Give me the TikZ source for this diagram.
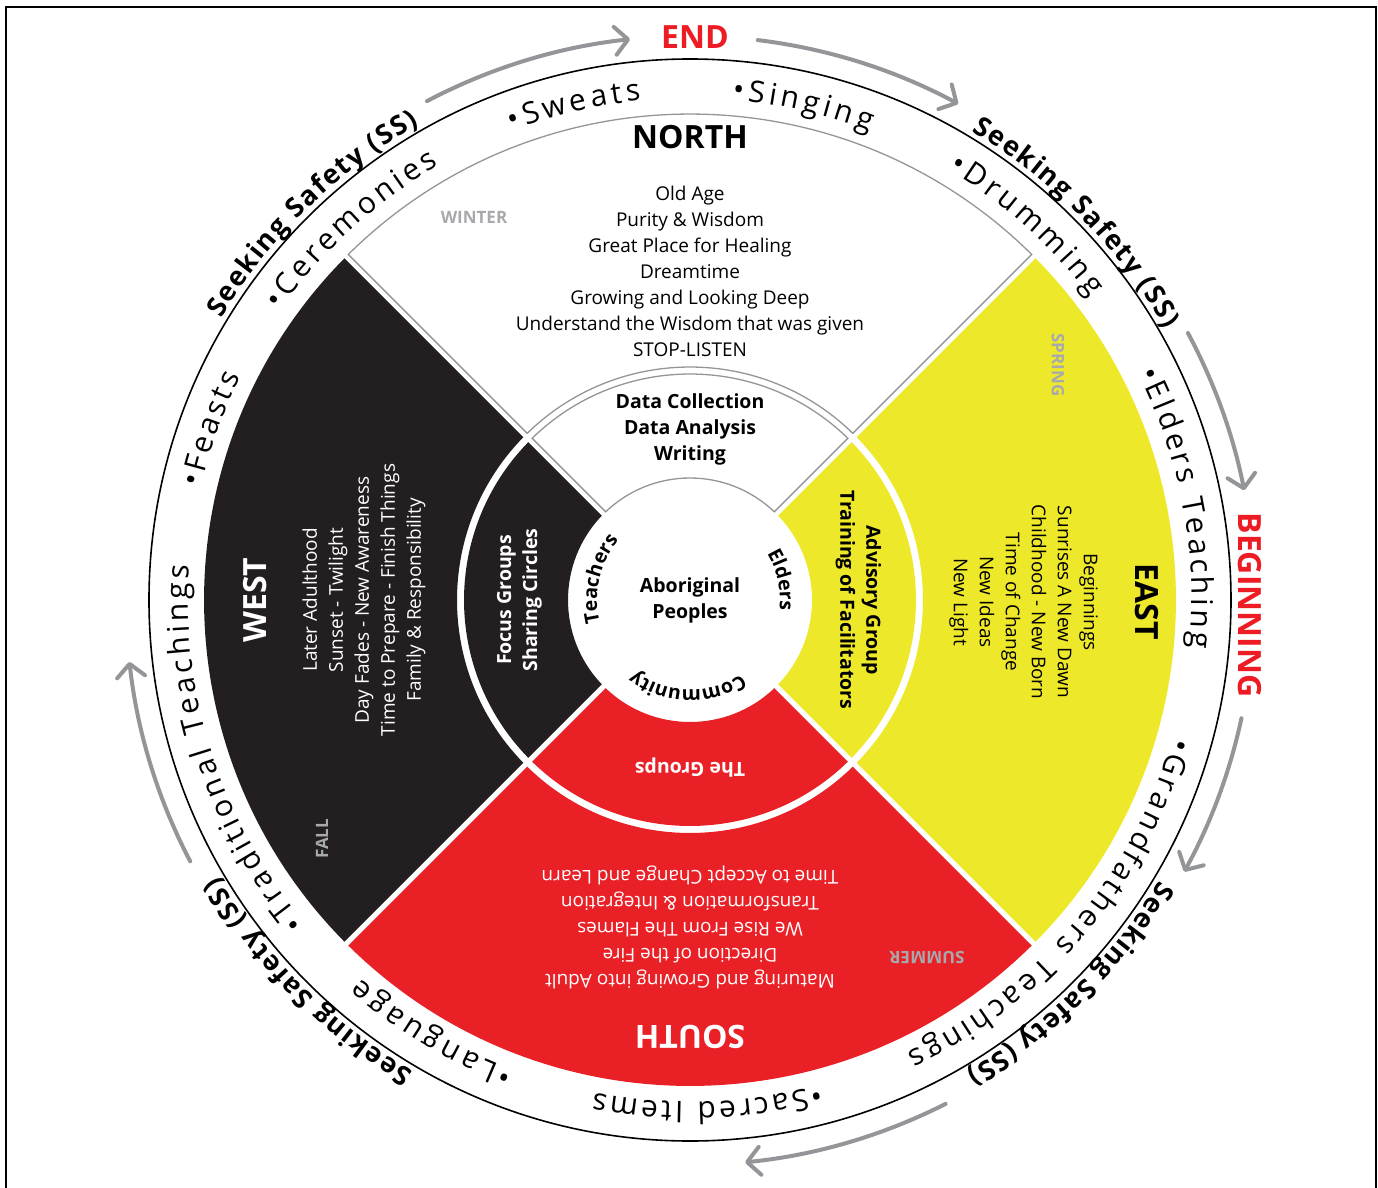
\documentclass[tikz,border=0pt]{standalone}
\usepackage{fontspec}
\setmainfont{Open Sans}
\usetikzlibrary{decorations.text,arrows.meta}
\definecolor{wblack}{HTML}{231F20}
\definecolor{wred}{HTML}{EA2027}
\definecolor{wyellow}{HTML}{EEE82A}
\definecolor{wgrey}{HTML}{939598}
\definecolor{sgrey}{HTML}{A7A9AC}
\definecolor{endred}{HTML}{ED1C24}
\tikzset{
  sector/.style n args={3}{insert path={({#1-45+asin(2.75/#3)}:#3) arc[start angle={#1-45+asin(2.75/#3)}, end angle={#1+45-asin(2.75/#3)}, radius=#3] -- ({#1+45-asin(2.75/#2)}:#2) arc[start angle={#1+45-asin(2.75/#2)}, end angle={#1-45+asin(2.75/#2)}, radius=#2] -- cycle}},
  northpiece/.style={fill=white, draw=wgrey, line width=1.3pt},
  cycleflow/.style={draw=wgrey, line width=4pt, line cap=round, -{Straight Barb[length=13pt,width=28pt,round]}},
  ringtext/.style={decorate, decoration={text along path, text align={fit to path}, text={|\fontsize{30}{30}\selectfont|#1}}},
  safetytext/.style={decorate, decoration={text along path, text align={fit to path}, text={|\fontsize{27}{27}\selectfont\bfseries|#1}}},
  hubtext/.style={decorate, decoration={text along path, text align=center, text={|\fontsize{19.5}{19.5}\selectfont\bfseries|#1}}},
  body/.style={font=\fontsize{19}{26}\selectfont, align=center, inner sep=0pt},
  heading/.style={font=\fontsize{32}{32}\selectfont\bfseries, inner sep=0pt},
  midtext/.style={font=\fontsize{19.5}{26}\selectfont\bfseries, align=center, inner sep=0pt},
  season/.style={font=\fontsize{17}{17}\selectfont\bfseries, text=sgrey, inner sep=0pt},
  cue/.style={font=\fontsize{32}{32}\selectfont\bfseries, text=endred, inner sep=0pt},
}
\begin{document}
\begin{tikzpicture}[x=1pt,y=1pt]
\useasboundingbox (-690,-587) rectangle (688,600);
% frame
\draw[line width=2pt] (-684,-600) -- (-684,593) -- (686,593) -- (686,-600);

% big sectors
\fill[wblack, sector={180}{233}{486}];
\fill[wred, sector={270}{233}{486}];
\fill[wyellow, sector={0}{233}{486}];
\path[northpiece, sector={90}{233}{486}];
% middle sectors
\fill[wblack, sector={180}{122}{226}];
\fill[wred, sector={270}{122}{226}];
\fill[wyellow, sector={0}{122}{226}];
\path[northpiece, sector={90}{122}{226}];

% outer circle
\draw[line width=1.6pt] (0,0) circle[radius=541];

% big sector texts
\node[heading] (north) at (0,463) {NORTH};
\node[body] (northtext) at (0,329) {Old Age\\Purity \& Wisdom\\Great Place for Healing\\Dreamtime\\Growing and Looking Deep\\Understand the Wisdom that was given\\STOP-LISTEN};
\node[heading, text=white, rotate=90] (west) at (-435,0) {WEST};
\node[body, text=white, rotate=90] (westtext) at (-326,0) {Later Adulthood\\Sunset - Twilight\\Day Fades - New Awareness\\Time to Prepare - Finish Things\\Family \& Responsibility};
\node[heading, rotate=-90] (east) at (457,-2) {EAST};
\node[body, rotate=-90] (easttext) at (333.5,-2) {Beginnings\\Sunrises A New Dawn\\Childhood - New Born\\Time of Change\\New Ideas\\New Light};
\node[heading, text=white, rotate=180] (south) at (0,-437) {SOUTH};
\node[body, text=white, rotate=180] (southtext) at (0,-327) {Maturing and Growing into Adult\\Direction of the Fire\\We Rise From The Flames\\Transformation \& Integration\\Time to Accept Change and Learn};

% seasons
\node[season] (winter) at (-216,383) {WINTER};
\node[season, rotate=-90] (spring) at (368,235) {SPRING};
\node[season, rotate=90] (fall) at (-368,-239) {FALL};
\node[season, rotate=180] (summer) at (237,-358) {SUMMER};

% middle ring texts
\node[midtext] (datatext) at (0,171) {Data Collection\\Data Analysis\\Writing};
\node[midtext, text=white, rotate=90] (focustext) at (-170.5,0) {Focus Groups\\Sharing Circles};
\node[midtext, rotate=-90] (advisorytext) at (168.5,0) {Advisory Group\\Training of Facilitators};
\node[midtext, text=white, rotate=180] (groupstext) at (0,-168) {The Groups};
\node[midtext] (hub) at (0,0) {Aboriginal\\Peoples};

% hub curved labels
\path[hubtext={Teachers}] ({167+90}:93) arc[start angle=167+90, end angle=167-90, radius=93];
\path[hubtext={Elders}] ({12.5+90}:90) arc[start angle=12.5+90, end angle=12.5-90, radius=90];
\path[hubtext={Community}] ({-91.6+90}:90) arc[start angle=-91.6+90, end angle=-91.6-90, radius=90];

% ring texts (fitted between measured start and end angles)
\path[ringtext={•Sweats}] (110.8:502) arc[start angle=110.8, end angle=95.6, radius=502];
\path[ringtext={•Singing}] (85.2:502) arc[start angle=85.2, end angle=69, radius=502];
\path[ringtext={•Ceremonies}] (144.8:502) arc[start angle=144.8, end angle=120, radius=502];
\path[ringtext={•Drumming}] (59:502) arc[start angle=59, end angle=37, radius=502];
\path[ringtext={•Feasts}] (167:502) arc[start angle=167, end angle=153.6, radius=502];
\path[ringtext={•Elders Teaching}] (26.8:502) arc[start angle=26.8, end angle=-5.5, radius=502];
\path[ringtext={•Grandfathers Teachings}] (-15.9:502) arc[start angle=-15.9, end angle=-64.4, radius=502];
\path[ringtext={•Sacred Items}] (-75:502) arc[start angle=-75, end angle=-101, radius=502];
\path[ringtext={•Language}] (-110.6:502) arc[start angle=-110.6, end angle=-131, radius=502];
\path[ringtext={•Traditional Teachings}] (220:502) arc[start angle=220, end angle=176, radius=502];

% seeking safety
\path[safetytext={Seeking Safety (SS)}] (149:547) arc[start angle=149, end angle=119.7, radius=547];
\path[safetytext={Seeking Safety (SS)}] (59:547) arc[start angle=59, end angle=29.7, radius=547];
\path[safetytext={Seeking Safety (SS)}] (-30.9:547) arc[start angle=-30.9, end angle=-59.6, radius=547];
\path[safetytext={Seeking Safety (SS)}] (-120.4:547) arc[start angle=-120.4, end angle=-149.6, radius=547];

% cues
\node[cue] (endlabel) at (5,563) {END};
\node[cue, rotate=-90] (beginlabel) at (560,-5) {BEGINNING};

% cycle arrows
\draw[cycleflow] (117.8:564) arc[start angle=117.8, end angle=96.1, radius=564];
\draw[cycleflow] (83.1:564) arc[start angle=83.1, end angle=61.6, radius=564];
\draw[cycleflow] (28.2:565) arc[start angle=28.2, end angle=11.2, radius=565];
\draw[cycleflow] (-12.1:564) arc[start angle=-12.1, end angle=-28.8, radius=564];
\draw[cycleflow] (-63.1:565) arc[start angle=-63.1, end angle=-84.4, radius=565];
\draw[cycleflow] (207.6:564) arc[start angle=207.6, end angle=186.3, radius=564];
\end{tikzpicture}
\end{document}
